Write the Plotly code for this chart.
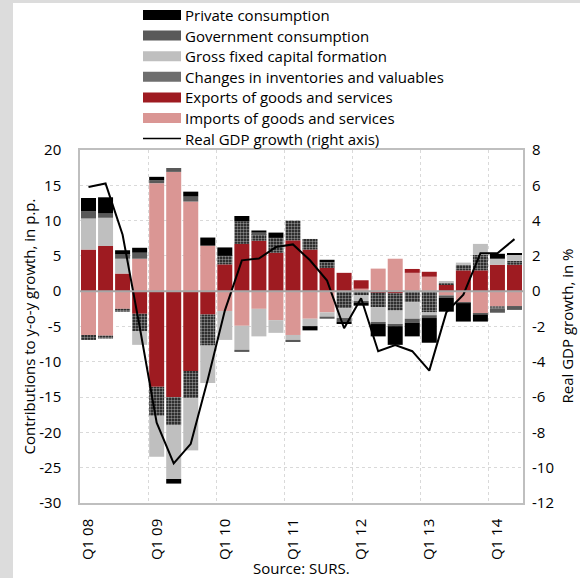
import plotly.graph_objects as go

# Quarterly contributions to y-o-y real GDP growth (p.p.) and GDP growth (%)
quarters = [
    "Q1 08", "Q2 08", "Q3 08", "Q4 08",
    "Q1 09", "Q2 09", "Q3 09", "Q4 09",
    "Q1 10", "Q2 10", "Q3 10", "Q4 10",
    "Q1 11", "Q2 11", "Q3 11", "Q4 11",
    "Q1 12", "Q2 12", "Q3 12", "Q4 12",
    "Q1 13", "Q2 13", "Q3 13", "Q4 13",
    "Q1 14", "Q2 14",
]
private_cons = [1.9, 2.3, 0.6, 0.7, 0.5, -0.65, 0.7, 1.15, 1.2, 0.75, 0.3, 0.75, 0.0,
                -0.6, 0.35, -0.35, -0.4, -1.75, -2.65, -1.95, -3.5, -1.95, -2.6, -0.95, 0.7, 0.25]
gov_cons = [1.0, 0.6, 0.6, 0.85, 0.4, 0.55, 0.7, 0.0, 0.0, -0.3, 0.25, 0.0, -0.3,
            0.0, -0.3, -0.5, -0.2, -0.2, -0.2, -0.55, -0.4, -0.35, -0.15, -0.15, -0.6, -0.55]
gfcf = [4.4, 4.0, 2.1, -1.9, -5.8, -7.6, -7.4, -5.3, -4.1, -3.4, -3.9, -1.8, -0.7,
        -1.05, -0.6, -1.4, -0.85, -2.2, -2.0, -2.35, -0.4, 0.25, 0.3, 1.55, 0.85, 0.85]
inventories = [-0.7, -0.4, -0.4, -2.5, -4.1, -4.0, -3.85, -4.4, 1.2, 3.2, 0.9, 2.1, 2.8,
               1.5, 0.8, -2.4, -0.6, -2.05, -2.45, -1.55, -3.0, 0.25, 0.8, 2.2, -0.3, 0.55]
exports = [5.9, 6.4, 2.5, -3.2, -13.55, -15.0, -11.3, -3.3, 3.8, 6.7, 7.15, 5.45, 7.2,
           5.9, 3.3, 2.6, 1.2, -0.2, -0.3, 0.55, 0.7, 0.95, 2.95, 2.95, 3.75, 3.75]
imports = [-6.2, -6.3, -2.5, 4.6, 15.3, 16.9, 12.7, 6.45, -2.8, -4.9, -2.5, -4.1, -6.2,
           -3.9, -3.0, 0.0, 0.35, 3.2, 4.6, 2.6, 2.05, -0.6, -1.55, -3.2, -2.15, -2.1]
gdp_growth = [5.9, 6.1, 3.2, -2.0, -7.45, -9.75, -8.65, -5.0, -1.1, 1.75, 1.85, 2.5, 2.65,
              1.75, 0.6, -2.1, -0.4, -3.4, -3.05, -3.4, -4.5, -1.2, -0.2, 2.15, 2.15, 2.95]

left_ticks = list(range(-30, 25, 5))
right_ticks = list(range(-12, 10, 2))

legend_labels = [
    "Private consumption",
    "Government consumption",
    "Gross fixed capital formation",
    "Changes in inventories and valuables",
    "Exports of goods and services",
    "Imports of goods and services",
    "Real GDP growth (right axis)",
]

C_PRIV = "#000000"
C_GOV = "#595959"
C_GFCF = "#bfbfbf"
C_INV = "#6e6e6e"
C_EXP = "#9e1b21"
C_IMP = "#da9694"
FONT = "Open Sans"

W, H = 580, 578
ML, MR, MT, MB = 80, 57, 150, 75
PW, PH = W - ML - MR, H - MT - MB


def px_x(px):
    return (px - ML) / PW


def px_y(py):
    return (H - MB - py) / PH


x = list(range(len(quarters)))
fig = go.Figure()

# stacking order outward from zero: imports, exports, inventories, GFCF, gov, private
fig.add_bar(x=x, y=imports, marker=dict(color=C_IMP, line_width=0), name=legend_labels[5])
fig.add_bar(x=x, y=exports, marker=dict(color=C_EXP, line_width=0), name=legend_labels[4])
fig.add_bar(x=x, y=inventories, name=legend_labels[3],
            marker=dict(color="#111111", line_width=0,
                        pattern=dict(shape=".", fgcolor="white", bgcolor="#111111",
                                     size=3, solidity=0.5)))
fig.add_bar(x=x, y=gfcf, marker=dict(color=C_GFCF, line_width=0), name=legend_labels[2])
fig.add_bar(x=x, y=gov_cons, marker=dict(color=C_GOV, line_width=0), name=legend_labels[1])
fig.add_bar(x=x, y=private_cons, marker=dict(color=C_PRIV, line_width=0), name=legend_labels[0])
fig.add_scatter(x=x, y=gdp_growth, mode="lines", yaxis="y2",
                line=dict(color="black", width=2), name=legend_labels[6])
fig.update_traces(showlegend=False)

year_starts = x[::4]
grid = "#d9d9d9"
frame = "#bfbfbf"

fig.update_layout(
    width=W, height=H,
    margin=dict(l=ML, r=MR, t=MT, b=MB),
    paper_bgcolor="white", plot_bgcolor="white",
    barmode="relative", bargap=0.12,
    font=dict(family=FONT, size=15, color="black"),
    xaxis=dict(
        range=[-0.5, len(quarters) - 0.5],
        tickmode="array", tickvals=year_starts,
        ticktext=[quarters[i] for i in year_starts],
        tickangle=-90, ticks="", showgrid=False, zeroline=False,
        ticklabelstandoff=8,
        minor=dict(tickvals=[i - 0.5 for i in year_starts[1:]], showgrid=True,
                   gridcolor=grid, griddash="dot", gridwidth=1, ticks=""),
        showline=True, mirror=True, linecolor=frame, linewidth=1.5,
    ),
    yaxis=dict(
        range=[-30, 20], tickmode="array", tickvals=left_ticks,
        ticktext=[str(v) for v in left_ticks],
        showgrid=True, gridcolor=grid, griddash="dot", gridwidth=1,
        zeroline=False, ticks="", ticklabelstandoff=14,
        showline=True, mirror=True, linecolor=frame, linewidth=1.5,
    ),
    yaxis2=dict(
        range=[-12, 8], overlaying="y", side="right", tickmode="array",
        tickvals=right_ticks, ticktext=[str(v) for v in right_ticks],
        showgrid=False, zeroline=False, ticks="", ticklabelstandoff=8,
        showline=False,
    ),
)

shapes = [
    # zero line drawn over the bars
    dict(type="line", xref="paper", yref="y", x0=0, x1=1, y0=0, y1=0,
         line=dict(color="#a6a6a6", width=2), layer="above"),
    # light grey page edge
    dict(type="rect", xref="paper", yref="paper", x0=px_x(0), x1=px_x(13),
         y0=px_y(H), y1=px_y(0), fillcolor="#dcdcdc", line_width=0, layer="below"),
    dict(type="rect", xref="paper", yref="paper", x0=px_x(0), x1=px_x(W),
         y0=px_y(3), y1=px_y(0), fillcolor="#dcdcdc", line_width=0, layer="below"),
]
annotations = []

# legend: swatches and labels
swatch_colors = [C_PRIV, C_GOV, C_GFCF, C_INV, C_EXP, C_IMP]
row_y = [15 + 20.6 * i for i in range(len(legend_labels))]
for i, label in enumerate(legend_labels):
    cy = row_y[i]
    if i < len(swatch_colors):
        shapes.append(dict(type="rect", xref="paper", yref="paper",
                           x0=px_x(143), x1=px_x(181), y0=px_y(cy + 5), y1=px_y(cy - 5),
                           fillcolor=swatch_colors[i], line_width=0))
    else:
        shapes.append(dict(type="line", xref="paper", yref="paper",
                           x0=px_x(143), x1=px_x(181), y0=px_y(cy), y1=px_y(cy),
                           line=dict(color="black", width=1.5)))
    annotations.append(dict(text=label, xref="paper", yref="paper", x=px_x(183), y=px_y(cy),
                            xanchor="left", yanchor="middle", showarrow=False,
                            font=dict(size=15, family=FONT, color="black")))

# axis titles and source note
annotations.append(dict(text="Contributions to y-o-y growth, in p.p.", xref="paper", yref="paper",
                        x=px_x(28), y=0.5, textangle=-90, showarrow=False,
                        xanchor="center", yanchor="middle", font=dict(size=15, family=FONT)))
annotations.append(dict(text="Real GDP growth, in %", xref="paper", yref="paper",
                        x=px_x(566), y=0.5, textangle=-90, showarrow=False,
                        xanchor="center", yanchor="middle", font=dict(size=15, family=FONT)))
annotations.append(dict(text="Source: SURS.", xref="paper", yref="paper",
                        x=0.5, y=px_y(568), showarrow=False,
                        xanchor="center", yanchor="middle", font=dict(size=15, family=FONT)))

fig.update_layout(shapes=shapes, annotations=annotations)
fig.write_html("out.html")
